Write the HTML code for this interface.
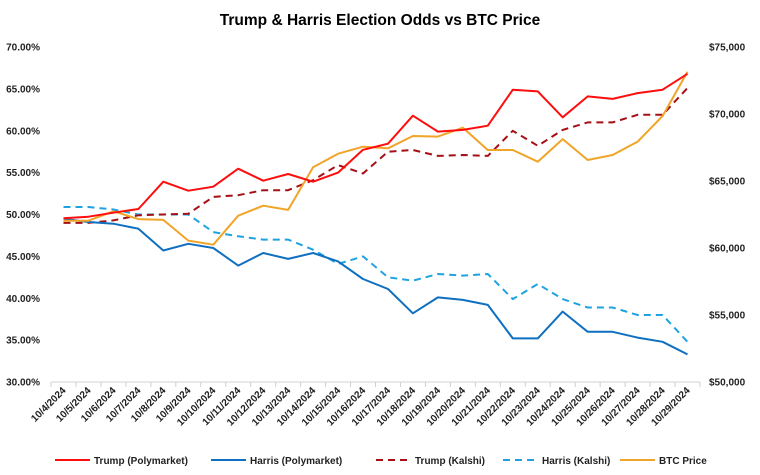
<!DOCTYPE html>
<html><head><meta charset="utf-8"><style>
html,body{margin:0;padding:0;background:#fff;}
svg{display:block;font-family:"Liberation Sans",Arial,sans-serif;}
</style></head><body>
<svg id="chart" width="760" height="475" viewBox="0 0 760 475">
<text x="380" y="25" text-anchor="middle" font-size="15.5" font-weight="bold" fill="#000">Trump &amp; Harris Election Odds vs BTC Price</text>
<g id="axes"></g>
<g id="series"></g>
<g id="legend"></g>
</svg>
<script>
const dates = ["10/4/2024","10/5/2024","10/6/2024","10/7/2024","10/8/2024","10/9/2024","10/10/2024","10/11/2024","10/12/2024","10/13/2024","10/14/2024","10/15/2024","10/16/2024","10/17/2024","10/18/2024","10/19/2024","10/20/2024","10/21/2024","10/22/2024","10/23/2024","10/24/2024","10/25/2024","10/26/2024","10/27/2024","10/28/2024","10/29/2024"];
const trumpPoly = [49.55,49.74,50.22,50.66,53.92,52.84,53.32,55.47,54.04,54.84,53.92,55.0,57.73,58.45,61.8,59.9,60.1,60.6,64.9,64.7,61.6,64.1,63.8,64.5,64.9,66.8];
const harrisPoly = [49.5,49.1,48.9,48.3,45.7,46.5,46.0,43.9,45.4,44.7,45.4,44.4,42.3,41.1,38.2,40.1,39.8,39.2,35.2,35.2,38.4,36.0,36.0,35.3,34.8,33.3];
const trumpKalshi = [49.0,49.0,49.3,49.9,50.0,50.1,52.1,52.3,52.9,52.9,54.1,55.9,54.9,57.5,57.7,57.0,57.1,57.0,60.0,58.2,60.1,61.0,61.0,61.9,61.9,65.1];
const harrisKalshi = [50.9,50.9,50.6,50.0,50.0,50.0,47.9,47.4,47.0,47.0,45.8,44.1,45.0,42.5,42.1,42.9,42.7,42.9,39.9,41.7,39.9,38.9,38.9,38.0,38.0,34.8];
const btcPrice = [62040,62040,62740,62160,62100,60550,60250,62410,63160,62840,66020,67040,67560,67440,68360,68310,68980,67310,67310,66440,68130,66570,66940,67930,69850,73160];
const leftTicks = [30,35,40,45,50,55,60,65,70];
const rightTicks = [50000,55000,60000,65000,70000,75000];

const NS="http://www.w3.org/2000/svg";
const X0=51, X1=700, Y0=382, Y1=47;
const step=(X1-X0)/dates.length;
function xAt(i){return X0+step*(i+0.5);}
function yL(v){return Y0-(v-30)/40*(Y0-Y1);}
function yR(v){return Y0-(v-50000)/25000*(Y0-Y1);}
function mk(tag,attrs,parent){const e=document.createElementNS(NS,tag);for(const k in attrs)e.setAttribute(k,attrs[k]);parent.appendChild(e);return e;}
const axes=document.getElementById('axes');
leftTicks.forEach(t=>{
  const e=mk('text',{x:40,y:yL(t)+3.5,'text-anchor':'end','font-size':'10','font-weight':'bold',fill:'#222'},axes);
  e.textContent=t.toFixed(2)+'%';
  
  
});
rightTicks.forEach(t=>{
  const e=mk('text',{x:709,y:yR(t)+3.5,'text-anchor':'start','font-size':'10','font-weight':'bold',fill:'#222'},axes);
  e.textContent='$'+t.toLocaleString('en-US');
  
  
});
const ax=mk('line',{x1:X0,y1:Y0,x2:X1,y2:Y0,stroke:'#d0d0d0','stroke-width':1},axes);


for(let i=0;i<=dates.length;i++){
  const tk=mk('line',{x1:X0+step*i,y1:Y0,x2:X0+step*i,y2:Y0+5,stroke:'#d0d0d0','stroke-width':1},axes);
  
  
}
dates.forEach((d,i)=>{
  const x=xAt(i)+3,y=Y0+9;
  const e=mk('text',{x:x,y:y,'text-anchor':'end','font-size':'10','font-weight':'bold',fill:'#222',transform:`rotate(-45 ${x} ${y})`},axes);
  e.textContent=d;
  
  
});
const series=document.getElementById('series');
function line(vals,yf,color,dash,name){
  const p=mk('polyline',{points:vals.map((v,i)=>xAt(i).toFixed(1)+','+yf(v).toFixed(1)).join(' '),fill:'none',stroke:color,'stroke-width':2,'stroke-linejoin':'round'},series);
  if(dash)p.setAttribute('stroke-dasharray',dash);
  
  
}
line(harrisKalshi,yL,'#1fa3e0','7,5','harris-kalshi-line');
line(trumpKalshi,yL,'#a50f15','7,5','trump-kalshi-line');
line(harrisPoly,yL,'#0f6fc0',null,'harris-polymarket-line');
line(btcPrice,yR,'#f0a428',null,'btc-price-line');
line(trumpPoly,yL,'#ff0d0d',null,'trump-polymarket-line');
const legend=document.getElementById('legend');
const items=[["Trump (Polymarket)",'#ff0d0d',null,55],["Harris (Polymarket)",'#0f6fc0',null,211],["Trump (Kalshi)",'#a50f15','7,5',376],["Harris (Kalshi)",'#1fa3e0','7,5',503],["BTC Price",'#f0a428',null,620]];
items.forEach(it=>{
  const g=mk('g',{},legend);
  
  
  const l=mk('line',{x1:it[3],y1:460,x2:it[3]+35,y2:460,stroke:it[1],'stroke-width':2},g);
  if(it[2])l.setAttribute('stroke-dasharray',it[2]);
  const t=mk('text',{x:it[3]+39,y:464,'font-size':'10','font-weight':'bold',fill:'#222'},g);
  t.textContent=it[0];
});
</script>
</body></html>
